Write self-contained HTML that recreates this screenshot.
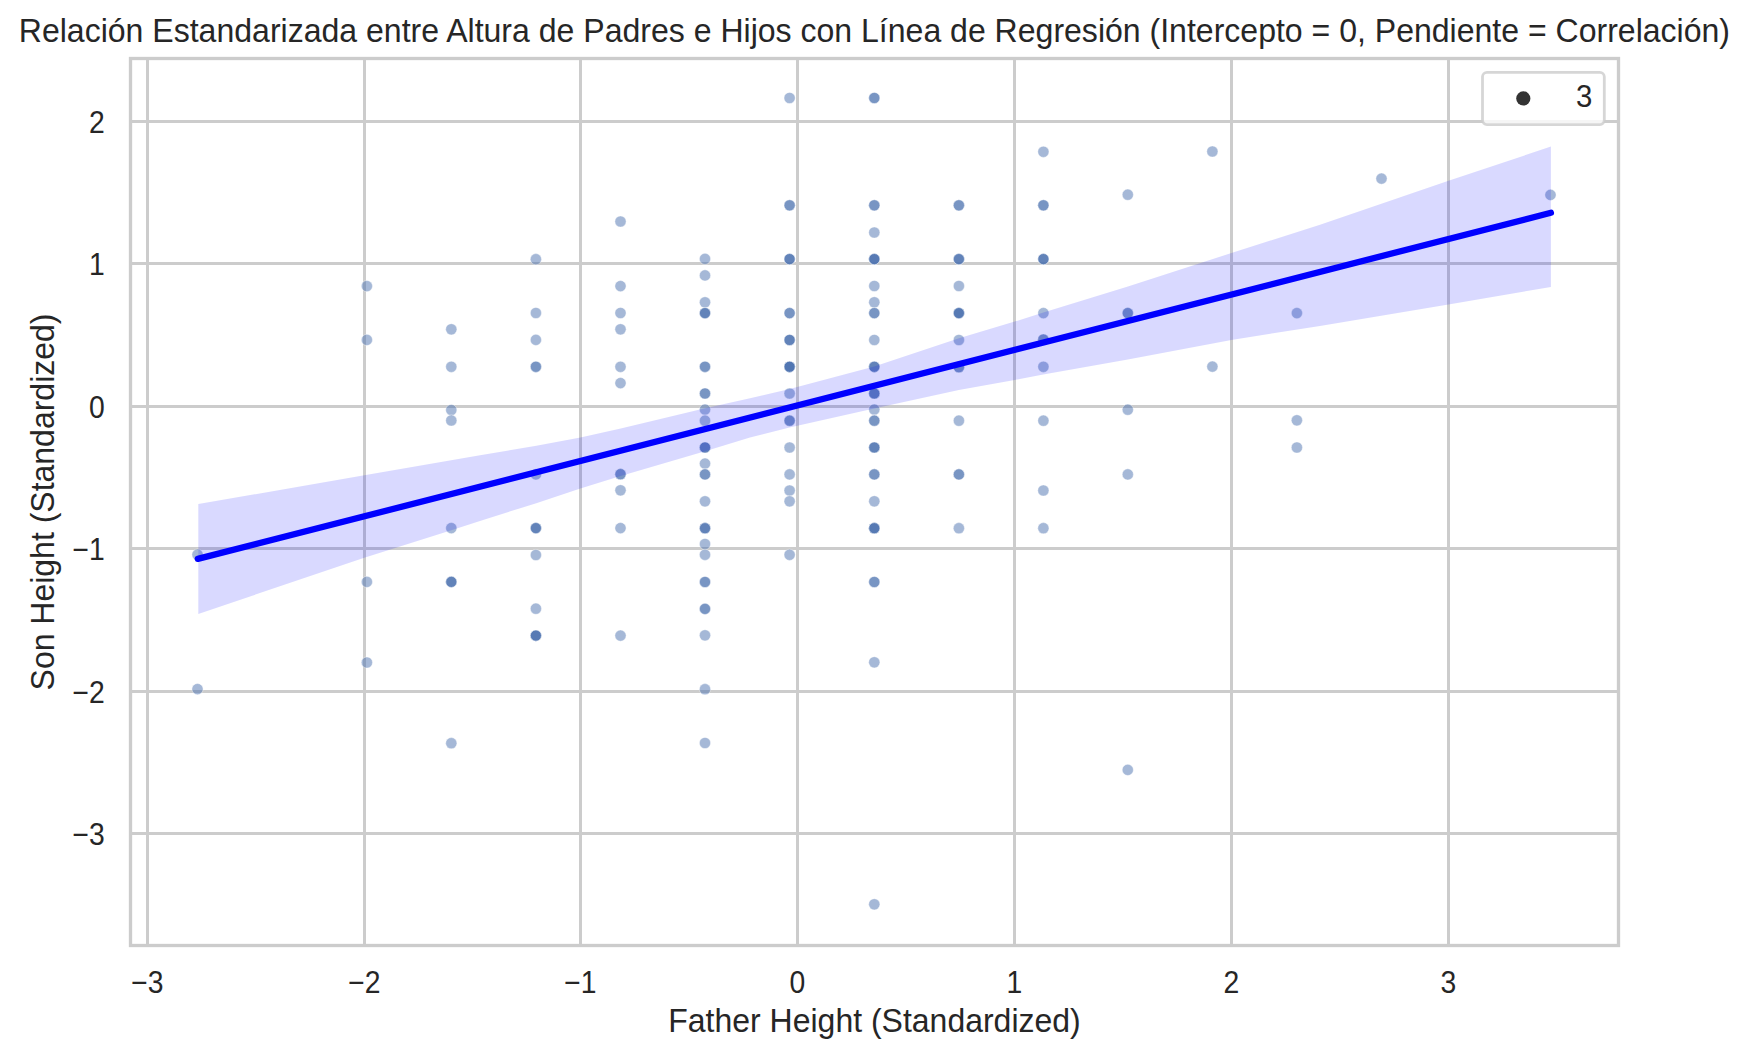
<!DOCTYPE html>
<html lang="es"><head><meta charset="utf-8"><title>Relación Estandarizada entre Altura de Padres e Hijos</title>
<style>html,body{margin:0;padding:0;background:#fff}body{width:1748px;height:1057px;overflow:hidden}svg{display:block}text{font-family:"Liberation Sans",Arial,sans-serif;fill:#262626}</style></head><body>
<svg width="1748" height="1057" viewBox="0 0 1748 1057">
<rect width="1748" height="1057" fill="#fff"/>
<g stroke="#cccccc" stroke-width="3" fill="none">
<line x1="147.5" y1="58.5" x2="147.5" y2="945.5"/>
<line x1="364.5" y1="58.5" x2="364.5" y2="945.5"/>
<line x1="580.5" y1="58.5" x2="580.5" y2="945.5"/>
<line x1="797.5" y1="58.5" x2="797.5" y2="945.5"/>
<line x1="1014.5" y1="58.5" x2="1014.5" y2="945.5"/>
<line x1="1231.5" y1="58.5" x2="1231.5" y2="945.5"/>
<line x1="1448.5" y1="58.5" x2="1448.5" y2="945.5"/>
<line x1="130.5" y1="833.5" x2="1618.5" y2="833.5"/>
<line x1="130.5" y1="691.5" x2="1618.5" y2="691.5"/>
<line x1="130.5" y1="548.5" x2="1618.5" y2="548.5"/>
<line x1="130.5" y1="406.5" x2="1618.5" y2="406.5"/>
<line x1="130.5" y1="263.5" x2="1618.5" y2="263.5"/>
<line x1="130.5" y1="121.5" x2="1618.5" y2="121.5"/>
</g>
<g fill="#4c72b0" fill-opacity="0.5" stroke="#fff" stroke-opacity="0.5" stroke-width="0.8">
<circle cx="197.5" cy="554.6" r="5.6"/>
<circle cx="197.5" cy="689.1" r="5.6"/>
<circle cx="366.9" cy="286.1" r="5.6"/>
<circle cx="366.9" cy="339.9" r="5.6"/>
<circle cx="366.9" cy="581.9" r="5.6"/>
<circle cx="366.9" cy="662.5" r="5.6"/>
<circle cx="451.3" cy="329.3" r="5.6"/>
<circle cx="451.3" cy="366.8" r="5.6"/>
<circle cx="451.3" cy="410.0" r="5.6"/>
<circle cx="451.3" cy="420.5" r="5.6"/>
<circle cx="451.3" cy="528.1" r="5.6"/>
<circle cx="451.3" cy="581.9" r="5.6"/>
<circle cx="451.3" cy="581.9" r="5.6"/>
<circle cx="451.3" cy="581.9" r="5.6"/>
<circle cx="451.3" cy="743.2" r="5.6"/>
<circle cx="535.9" cy="259.2" r="5.6"/>
<circle cx="535.9" cy="313.0" r="5.6"/>
<circle cx="535.9" cy="339.9" r="5.6"/>
<circle cx="535.9" cy="366.8" r="5.6"/>
<circle cx="535.9" cy="366.8" r="5.6"/>
<circle cx="535.9" cy="474.4" r="5.6"/>
<circle cx="535.9" cy="528.1" r="5.6"/>
<circle cx="535.9" cy="528.1" r="5.6"/>
<circle cx="535.9" cy="528.1" r="5.6"/>
<circle cx="535.9" cy="555.0" r="5.6"/>
<circle cx="535.9" cy="608.7" r="5.6"/>
<circle cx="535.9" cy="635.6" r="5.6"/>
<circle cx="535.9" cy="635.6" r="5.6"/>
<circle cx="535.9" cy="635.6" r="5.6"/>
<circle cx="535.9" cy="635.6" r="5.6"/>
<circle cx="620.5" cy="221.5" r="5.6"/>
<circle cx="620.5" cy="286.1" r="5.6"/>
<circle cx="620.5" cy="313.0" r="5.6"/>
<circle cx="620.5" cy="329.3" r="5.6"/>
<circle cx="620.5" cy="366.8" r="5.6"/>
<circle cx="620.5" cy="383.1" r="5.6"/>
<circle cx="620.5" cy="474.2" r="5.6"/>
<circle cx="620.5" cy="474.2" r="5.6"/>
<circle cx="620.5" cy="490.3" r="5.6"/>
<circle cx="620.5" cy="528.1" r="5.6"/>
<circle cx="620.5" cy="635.6" r="5.6"/>
<circle cx="705.0" cy="258.9" r="5.6"/>
<circle cx="705.0" cy="275.4" r="5.6"/>
<circle cx="705.0" cy="302.3" r="5.6"/>
<circle cx="705.0" cy="313.1" r="5.6"/>
<circle cx="705.0" cy="313.1" r="5.6"/>
<circle cx="705.0" cy="313.1" r="5.6"/>
<circle cx="705.0" cy="366.8" r="5.6"/>
<circle cx="705.0" cy="366.8" r="5.6"/>
<circle cx="705.0" cy="393.5" r="5.6"/>
<circle cx="705.0" cy="393.5" r="5.6"/>
<circle cx="705.0" cy="409.5" r="5.6"/>
<circle cx="705.0" cy="420.7" r="5.6"/>
<circle cx="705.0" cy="447.5" r="5.6"/>
<circle cx="705.0" cy="447.5" r="5.6"/>
<circle cx="705.0" cy="447.5" r="5.6"/>
<circle cx="705.0" cy="463.6" r="5.6"/>
<circle cx="705.0" cy="474.4" r="5.6"/>
<circle cx="705.0" cy="474.4" r="5.6"/>
<circle cx="705.0" cy="501.3" r="5.6"/>
<circle cx="705.0" cy="528.2" r="5.6"/>
<circle cx="705.0" cy="528.2" r="5.6"/>
<circle cx="705.0" cy="528.2" r="5.6"/>
<circle cx="705.0" cy="544.0" r="5.6"/>
<circle cx="705.0" cy="554.8" r="5.6"/>
<circle cx="705.0" cy="582.0" r="5.6"/>
<circle cx="705.0" cy="582.0" r="5.6"/>
<circle cx="705.0" cy="608.9" r="5.6"/>
<circle cx="705.0" cy="608.9" r="5.6"/>
<circle cx="705.0" cy="635.3" r="5.6"/>
<circle cx="705.0" cy="689.2" r="5.6"/>
<circle cx="705.0" cy="743.0" r="5.6"/>
<circle cx="789.6" cy="98.0" r="5.6"/>
<circle cx="789.6" cy="205.3" r="5.6"/>
<circle cx="789.6" cy="205.3" r="5.6"/>
<circle cx="789.6" cy="259.1" r="5.6"/>
<circle cx="789.6" cy="259.1" r="5.6"/>
<circle cx="789.6" cy="259.1" r="5.6"/>
<circle cx="789.6" cy="313.1" r="5.6"/>
<circle cx="789.6" cy="313.1" r="5.6"/>
<circle cx="789.6" cy="340.0" r="5.6"/>
<circle cx="789.6" cy="340.0" r="5.6"/>
<circle cx="789.6" cy="340.0" r="5.6"/>
<circle cx="789.6" cy="366.8" r="5.6"/>
<circle cx="789.6" cy="366.8" r="5.6"/>
<circle cx="789.6" cy="366.8" r="5.6"/>
<circle cx="789.6" cy="366.8" r="5.6"/>
<circle cx="789.6" cy="366.8" r="5.6"/>
<circle cx="789.6" cy="393.5" r="5.6"/>
<circle cx="789.6" cy="420.7" r="5.6"/>
<circle cx="789.6" cy="420.7" r="5.6"/>
<circle cx="789.6" cy="447.5" r="5.6"/>
<circle cx="789.6" cy="474.4" r="5.6"/>
<circle cx="789.6" cy="490.5" r="5.6"/>
<circle cx="789.6" cy="501.3" r="5.6"/>
<circle cx="789.6" cy="554.8" r="5.6"/>
<circle cx="874.3" cy="98.0" r="5.6"/>
<circle cx="874.3" cy="98.0" r="5.6"/>
<circle cx="874.3" cy="205.3" r="5.6"/>
<circle cx="874.3" cy="205.3" r="5.6"/>
<circle cx="874.3" cy="232.5" r="5.6"/>
<circle cx="874.3" cy="259.1" r="5.6"/>
<circle cx="874.3" cy="259.1" r="5.6"/>
<circle cx="874.3" cy="259.1" r="5.6"/>
<circle cx="874.3" cy="259.1" r="5.6"/>
<circle cx="874.3" cy="286.0" r="5.6"/>
<circle cx="874.3" cy="302.3" r="5.6"/>
<circle cx="874.3" cy="313.1" r="5.6"/>
<circle cx="874.3" cy="313.1" r="5.6"/>
<circle cx="874.3" cy="340.0" r="5.6"/>
<circle cx="874.3" cy="366.8" r="5.6"/>
<circle cx="874.3" cy="366.8" r="5.6"/>
<circle cx="874.3" cy="366.8" r="5.6"/>
<circle cx="874.3" cy="393.5" r="5.6"/>
<circle cx="874.3" cy="393.5" r="5.6"/>
<circle cx="874.3" cy="393.5" r="5.6"/>
<circle cx="874.3" cy="409.5" r="5.6"/>
<circle cx="874.3" cy="420.7" r="5.6"/>
<circle cx="874.3" cy="420.7" r="5.6"/>
<circle cx="874.3" cy="447.5" r="5.6"/>
<circle cx="874.3" cy="447.5" r="5.6"/>
<circle cx="874.3" cy="447.5" r="5.6"/>
<circle cx="874.3" cy="474.4" r="5.6"/>
<circle cx="874.3" cy="474.4" r="5.6"/>
<circle cx="874.3" cy="501.3" r="5.6"/>
<circle cx="874.3" cy="528.2" r="5.6"/>
<circle cx="874.3" cy="528.2" r="5.6"/>
<circle cx="874.3" cy="528.2" r="5.6"/>
<circle cx="874.3" cy="528.2" r="5.6"/>
<circle cx="874.3" cy="582.0" r="5.6"/>
<circle cx="874.3" cy="582.0" r="5.6"/>
<circle cx="874.3" cy="662.3" r="5.6"/>
<circle cx="874.3" cy="904.3" r="5.6"/>
<circle cx="958.9" cy="205.3" r="5.6"/>
<circle cx="958.9" cy="205.3" r="5.6"/>
<circle cx="958.9" cy="259.1" r="5.6"/>
<circle cx="958.9" cy="259.1" r="5.6"/>
<circle cx="958.9" cy="259.1" r="5.6"/>
<circle cx="958.9" cy="286.0" r="5.6"/>
<circle cx="958.9" cy="313.1" r="5.6"/>
<circle cx="958.9" cy="313.1" r="5.6"/>
<circle cx="958.9" cy="313.1" r="5.6"/>
<circle cx="958.9" cy="313.1" r="5.6"/>
<circle cx="958.9" cy="340.0" r="5.6"/>
<circle cx="958.9" cy="367.2" r="5.6"/>
<circle cx="958.9" cy="367.2" r="5.6"/>
<circle cx="958.9" cy="420.7" r="5.6"/>
<circle cx="958.9" cy="474.4" r="5.6"/>
<circle cx="958.9" cy="474.4" r="5.6"/>
<circle cx="958.9" cy="528.2" r="5.6"/>
<circle cx="1043.4" cy="151.8" r="5.6"/>
<circle cx="1043.4" cy="205.3" r="5.6"/>
<circle cx="1043.4" cy="205.3" r="5.6"/>
<circle cx="1043.4" cy="259.1" r="5.6"/>
<circle cx="1043.4" cy="259.1" r="5.6"/>
<circle cx="1043.4" cy="259.1" r="5.6"/>
<circle cx="1043.4" cy="313.1" r="5.6"/>
<circle cx="1043.4" cy="339.5" r="5.6"/>
<circle cx="1043.4" cy="339.5" r="5.6"/>
<circle cx="1043.4" cy="366.8" r="5.6"/>
<circle cx="1043.4" cy="420.7" r="5.6"/>
<circle cx="1043.4" cy="490.5" r="5.6"/>
<circle cx="1043.4" cy="528.2" r="5.6"/>
<circle cx="1127.8" cy="194.7" r="5.6"/>
<circle cx="1127.8" cy="313.1" r="5.6"/>
<circle cx="1127.8" cy="313.1" r="5.6"/>
<circle cx="1127.8" cy="409.7" r="5.6"/>
<circle cx="1127.8" cy="474.4" r="5.6"/>
<circle cx="1127.8" cy="769.9" r="5.6"/>
<circle cx="1212.4" cy="151.5" r="5.6"/>
<circle cx="1212.4" cy="366.6" r="5.6"/>
<circle cx="1296.9" cy="313.1" r="5.6"/>
<circle cx="1296.9" cy="420.3" r="5.6"/>
<circle cx="1296.9" cy="447.5" r="5.6"/>
<circle cx="1381.5" cy="178.6" r="5.6"/>
<circle cx="1550.5" cy="194.9" r="5.6"/>
</g>
<polygon points="198.3,504.1 364.3,475.3 480.0,455.3 536.3,445.8 580.4,437.4 620.7,428.6 705.1,408.3 750.0,398.3 789.6,389.1 874.2,366.6 958.9,338.3 1014.7,321.6 1043.3,312.4 1127.9,286.6 1231.4,253.0 1320.0,224.7 1448.5,180.8 1550.9,146.6 1550.9,287.0 1448.5,304.5 1320.0,326.0 1231.4,339.9 1127.9,359.5 1043.3,374.6 1014.7,379.9 958.9,389.9 874.2,408.4 789.6,427.4 750.0,437.6 705.1,451.3 620.7,476.1 580.4,488.5 536.3,503.2 480.0,520.9 451.4,530.2 364.3,557.7 198.3,614.0" fill="#0000ff" fill-opacity="0.15"/>
<line x1="197.8" y1="558.9" x2="1550.9" y2="212.8" stroke="#0000ff" stroke-width="6.3" stroke-linecap="round"/>
<rect x="130.5" y="58.5" width="1488.0" height="887.0" fill="none" stroke="#cccccc" stroke-width="3.33"/>
<rect x="1482.5" y="72.3" width="121.8" height="52.3" rx="4.5" ry="4.5" fill="#fff" fill-opacity="0.8" stroke="#cccccc" stroke-opacity="0.8" stroke-width="2.8"/>
<circle cx="1523.3" cy="98.4" r="7.1" fill="#333333"/>
<text transform="translate(1575.9,106.8) scale(1,1.05)" font-size="29.33">3</text>
<g font-size="29.33" text-anchor="middle">
<text transform="translate(147.3,993.2) scale(0.965,1.05)">−3</text>
<text transform="translate(364.3,993.2) scale(0.965,1.05)">−2</text>
<text transform="translate(580.3,993.2) scale(0.965,1.05)">−1</text>
<text transform="translate(797.3,993.2) scale(0.965,1.05)">0</text>
<text transform="translate(1014.3,993.2) scale(0.965,1.05)">1</text>
<text transform="translate(1231.3,993.2) scale(0.965,1.05)">2</text>
<text transform="translate(1448.3,993.2) scale(0.965,1.05)">3</text>
</g>
<g font-size="29.33" text-anchor="end">
<text transform="translate(104.8,845.0) scale(0.965,1.05)">−3</text>
<text transform="translate(104.8,703.0) scale(0.965,1.05)">−2</text>
<text transform="translate(104.8,560.0) scale(0.965,1.05)">−1</text>
<text transform="translate(104.8,418.0) scale(0.965,1.05)">0</text>
<text transform="translate(104.8,275.0) scale(0.965,1.05)">1</text>
<text transform="translate(104.8,133.0) scale(0.965,1.05)">2</text>
</g>
<text transform="translate(874.5,1031.6) scale(1,1.035)" font-size="32" text-anchor="middle">Father Height (Standardized)</text>
<text transform="translate(53.7,502) rotate(-90) scale(1,1.035)" font-size="32" text-anchor="middle">Son Height (Standardized)</text>
<text transform="translate(874.4,41.8) scale(1.0012,1.035)" font-size="32" text-anchor="middle">Relación Estandarizada entre Altura de Padres e Hijos con Línea de Regresión (Intercepto = 0, Pendiente = Correlación)</text>
</svg></body></html>
